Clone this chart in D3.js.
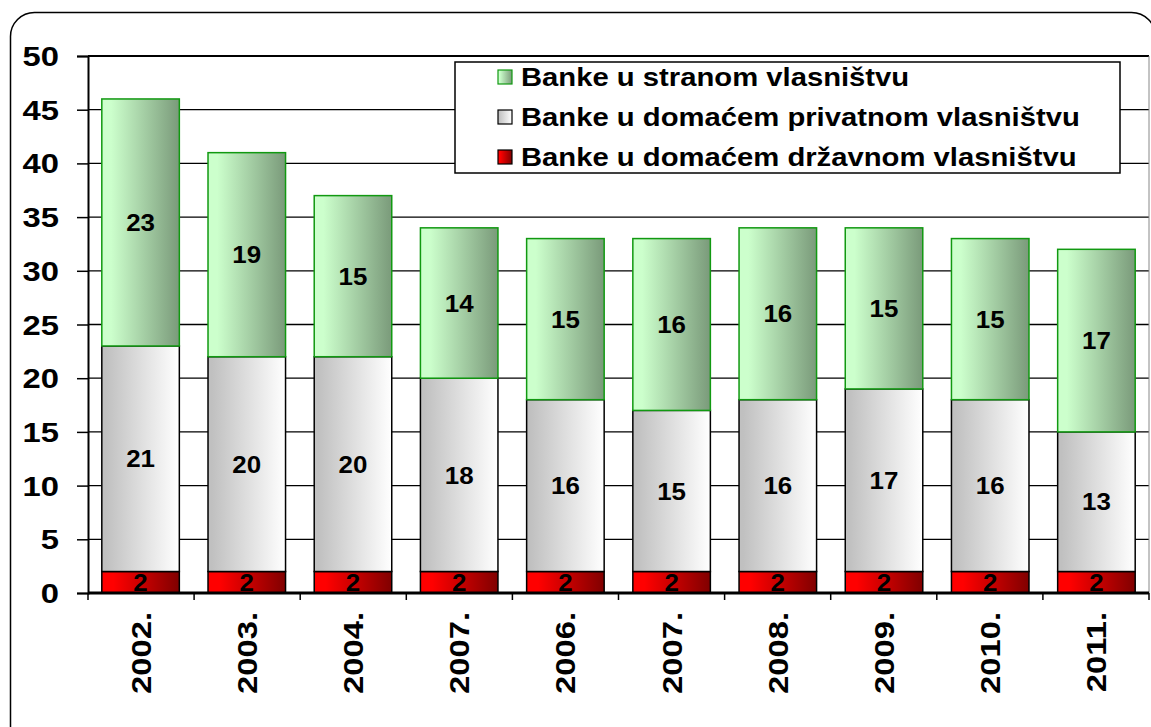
<!DOCTYPE html>
<html>
<head>
<meta charset="utf-8">
<script src="https://cdn.jsdelivr.net/npm/d3@7"></script>
<style>
  body { margin: 0; background: #fff; }
  text { font-family: Arial, "Liberation Sans", sans-serif; font-weight: bold; fill: #000; }
</style>
</head>
<body>
<svg id="chart" width="1151" height="727"></svg>
<script>
// categories and values
var years = ["2002.", "2003.", "2004.", "2007.", "2006.", "2007.", "2008.", "2009.", "2010.", "2011."];
var drzavne = [2, 2, 2, 2, 2, 2, 2, 2, 2, 2];
var privatne = [21, 20, 20, 18, 16, 15, 16, 17, 16, 13];
var strane = [23, 19, 15, 14, 15, 16, 16, 15, 15, 17];
var yTicks = [0, 5, 10, 15, 20, 25, 30, 35, 40, 45, 50];
var seriesNames = ["Banke u stranom vlasništvu", "Banke u domaćem privatnom vlasništvu", "Banke u domaćem državnom vlasništvu"];

var svg = d3.select("#chart"),
    pLeft = 88, pRight = 1149, pTop = 56, pBottom = 593,
    stretch = 1.17; // reference text looks widened

// gradients
var defs = svg.append("defs");
function grad(id, c1, c2, stop1) {
    var g = defs.append("linearGradient").attr("id", id)
        .attr("x1", "0%").attr("x2", "100%").attr("y1", "0%").attr("y2", "0%");
    g.append("stop").attr("offset", "0%").attr("stop-color", c1);
    g.append("stop").attr("offset", stop1).attr("stop-color", c1);
    g.append("stop").attr("offset", "100%").attr("stop-color", c2);
}
grad("gGreen", "#ccffcc", "#7a9a7a", "12%");
grad("gGray", "#c0c0c0", "#ffffff", "5%");
grad("gRed", "#ff0000", "#800000", "15%");

// outer frame
svg.append("rect")
    .attr("x", 10.5).attr("y", 12.5).attr("width", 1145).attr("height", 740)
    .attr("rx", 24).attr("ry", 24)
    .style("fill", "none").style("stroke", "#000").style("stroke-width", 1.5);

var x = d3.scaleBand().domain(d3.range(years.length)).range([pLeft, pRight]).paddingInner(0.27).paddingOuter(0.13);
var y = d3.scaleLinear().domain([0, 50]).range([pBottom, pTop]);

// gridlines
svg.append("g").selectAll("line").data(yTicks.slice(1)).enter().append("line")
    .attr("x1", pLeft).attr("x2", pRight)
    .attr("y1", function (d) { return y(d); }).attr("y2", function (d) { return y(d); })
    .style("stroke", "#000").style("stroke-width", function (d) { return d === 50 ? 2 : 1.3; });
svg.append("line").attr("x1", pRight).attr("x2", pRight).attr("y1", pTop).attr("y2", pBottom)
    .style("stroke", "#888").style("stroke-width", 1);

// y axis
var yAxis = svg.append("g").attr("transform", "translate(" + pLeft + ",0)")
    .call(d3.axisLeft(y).tickValues(yTicks).tickSize(11).tickFormat(""));
yAxis.select(".domain").style("stroke-width", 2);
yAxis.selectAll(".tick line").style("stroke-width", 1.5);
svg.append("g").selectAll("text").data(yTicks).enter().append("text")
    .attr("transform", function (d) { return "translate(59," + y(d) + ") scale(" + stretch + ",1)"; })
    .attr("text-anchor", "end").attr("dy", "0.36em")
    .style("font-size", "28px")
    .text(function (d) { return d; });

// stacked data
var stackData = years.map(function (yr, i) {
    return [
        { y0: 0, y1: drzavne[i], v: drzavne[i], fill: "url(#gRed)", stroke: "#000" },
        { y0: drzavne[i], y1: drzavne[i] + privatne[i], v: privatne[i], fill: "url(#gGray)", stroke: "#000" },
        { y0: drzavne[i] + privatne[i], y1: drzavne[i] + privatne[i] + strane[i], v: strane[i], fill: "url(#gGreen)", stroke: "#119911" }
    ];
});

var groups = svg.append("g").selectAll("g").data(stackData).enter().append("g")
    .attr("transform", function (d, i) { return "translate(" + x(i) + ",0)"; });

groups.selectAll("rect").data(function (d) { return d; }).enter().append("rect")
    .attr("x", 0).attr("width", x.bandwidth())
    .attr("y", function (d) { return y(d.y1); })
    .attr("height", function (d) { return y(d.y0) - y(d.y1); })
    .style("fill", function (d) { return d.fill; })
    .style("stroke", function (d) { return d.stroke; })
    .style("stroke-width", 1.5);

groups.selectAll("text").data(function (d) { return d; }).enter().append("text")
    .attr("transform", function (d) {
        return "translate(" + (x.bandwidth() / 2) + "," + ((y(d.y0) + y(d.y1)) / 2) + ") scale(1.08,1)";
    })
    .attr("dy", "0.36em")
    .attr("text-anchor", "middle")
    .style("font-size", "24px")
    .text(function (d) { return d.v; });

// x axis
var xAxis = svg.append("g").attr("transform", "translate(0," + pBottom + ")");
xAxis.append("line").attr("x1", pLeft).attr("x2", pRight).style("stroke", "#000").style("stroke-width", 3);
var step = (pRight - pLeft) / years.length;
xAxis.selectAll(".tk").data(d3.range(years.length + 1)).enter().append("line")
    .attr("x1", function (d) { return pLeft + d * step; }).attr("x2", function (d) { return pLeft + d * step; })
    .attr("y1", 0).attr("y2", 7).style("stroke", "#000").style("stroke-width", 1.5);
xAxis.selectAll("text").data(years).enter().append("text")
    .attr("transform", function (d, i) {
        return "translate(" + (x(i) + x.bandwidth() / 2 + 10) + ",19) rotate(-90) scale(" + stretch + ",1)";
    })
    .attr("text-anchor", "end")
    .style("font-size", "28px")
    .text(function (d) { return d; });

// legend
var legend = svg.append("g").attr("transform", "translate(455,62)");
legend.append("rect").attr("width", 665).attr("height", 111)
    .style("fill", "#fff").style("stroke", "#000").style("stroke-width", 1.5);
var legFills = ["url(#gGreen)", "url(#gGray)", "url(#gRed)"];
var legStroke = ["#119911", "#000", "#000"];
var li = legend.selectAll(".li").data(seriesNames).enter().append("g")
    .attr("transform", function (d, i) { return "translate(0," + (i * 40) + ")"; });
li.append("rect").attr("x", 43).attr("y", 8).attr("width", 14).attr("height", 14)
    .style("fill", function (d, i) { return legFills[i]; })
    .style("stroke", function (d, i) { return legStroke[i]; }).style("stroke-width", 1.2);
li.append("text")
    .attr("transform", "translate(66,15) scale(" + stretch + ",1)")
    .attr("dy", "0.36em")
    .style("font-size", "25px").text(function (d) { return d; });
</script>
</body>
</html>
